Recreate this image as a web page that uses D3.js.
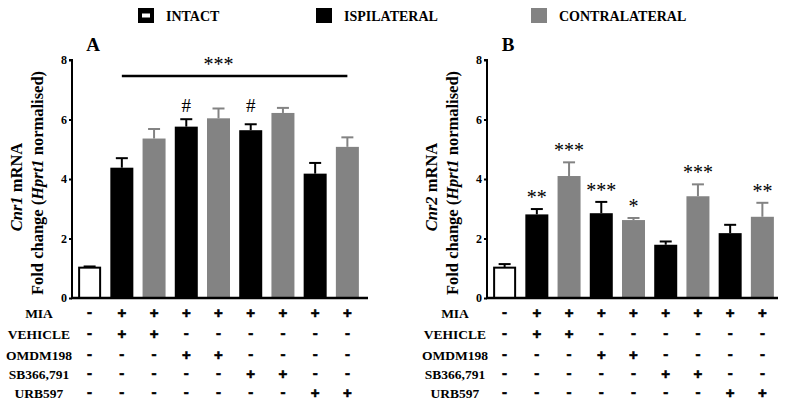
<!DOCTYPE html>
<html><head><meta charset="utf-8">
<script src="https://cdn.jsdelivr.net/npm/d3@7"></script>
<style>body{margin:0;background:#fff}svg{display:block}</style>
</head><body>
<svg id="c" width="786" height="410"></svg>
<script>
const groups = ["INTACT","MIA+VEH ipsi","MIA+VEH contra","OMDM198 ipsi","OMDM198 contra","SB366,791 ipsi","SB366,791 contra","URB597 ipsi","URB597 contra"];
const sides = ["intact","ipsi","contra","ipsi","contra","ipsi","contra","ipsi","contra"];
const cnr1Mean = [1.02, 4.38, 5.36, 5.76, 6.04, 5.64, 6.22, 4.18, 5.08];
const cnr1Sem  = [0.04, 0.32, 0.32, 0.25, 0.33, 0.20, 0.17, 0.36, 0.32];
const cnr2Mean = [1.02, 2.81, 4.10, 2.85, 2.62, 1.79, 3.42, 2.18, 2.73];
const cnr2Sem  = [0.12, 0.18, 0.46, 0.38, 0.07, 0.11, 0.40, 0.28, 0.47];
const cnr1Hash = ["", "", "", "#", "", "#", "", "", ""];
const cnr2Stars = ["", "**", "***", "***", "*", "", "***", "", "**"];
const yTicks = [0, 2, 4, 6, 8];
const rowLabels = ["MIA","VEHICLE","OMDM198","SB366,791","URB597"];
const treatment = [
  ["-","+","+","+","+","+","+","+","+"],
  ["-","+","+","-","-","-","-","-","-"],
  ["-","-","-","+","+","-","-","-","-"],
  ["-","-","-","-","-","+","+","-","-"],
  ["-","-","-","-","-","-","-","+","+"]
];
const legendLabels = ["INTACT","ISPILATERAL","CONTRALATERAL"];
const legendKeys = ["intact","ipsi","contra"];

const SERIF = '"Liberation Serif","Times New Roman",serif';
const GRAY = "#838383";
const fillOf = s => s === "intact" ? "#fff" : s === "ipsi" ? "#000" : GRAY;
const strokeOf = s => s === "contra" ? GRAY : "#000";

const svg = d3.select("#c");
const T = (sel) => sel.style("font-family", SERIF).style("font-weight", "bold");

// legend
const legX = [138, 316, 531];
legendKeys.forEach((k, i) => {
  const g = svg.append("g").attr("transform", `translate(${legX[i]},8)`);
  g.append("rect").attr("width", 16).attr("height", 15).attr("fill", k === "contra" ? GRAY : "#000");
  if (k === "intact") g.append("rect").attr("x", 4).attr("y", 5.5).attr("width", 8).attr("height", 4).attr("fill", "#fff");
  T(g.append("text").attr("x", 28).attr("y", 13).style("font-size", "14px")).text(legendLabels[i]);
});

const y = d3.scaleLinear().domain([0, 8]).range([298, 60]);

function panel(opt) {
  const x = d3.scaleBand().domain(d3.range(groups.length)).range([opt.ax, opt.ax + 293]).paddingInner(0.286).paddingOuter(0.19);
  const g = svg.append("g");
  const bw = x.bandwidth();
  g.selectAll("rect.bar").data(opt.mean).join("rect")
    .attr("x", (d, i) => x(i) + (sides[i] === "intact" ? 1 : 0))
    .attr("width", (d, i) => bw - (sides[i] === "intact" ? 2 : 0))
    .attr("y", d => y(d))
    .attr("height", d => y(0) - y(d))
    .attr("fill", (d, i) => fillOf(sides[i]))
    .attr("stroke", (d, i) => sides[i] === "intact" ? "#000" : "none")
    .attr("stroke-width", 2);
  opt.mean.forEach((m, i) => {
    const cx = x(i) + bw / 2, top = y(m + opt.sem[i]);
    g.append("line").attr("x1", cx).attr("x2", cx).attr("y1", y(m)).attr("y2", top).attr("stroke", strokeOf(sides[i])).attr("stroke-width", 2);
    g.append("line").attr("x1", cx - 6).attr("x2", cx + 6).attr("y1", top).attr("y2", top).attr("stroke", strokeOf(sides[i])).attr("stroke-width", 2);
  });
  const ya = g.append("g").attr("transform", `translate(${opt.ax},0)`)
    .call(d3.axisLeft(y).tickValues(yTicks).tickSize(3).tickPadding(2));
  ya.select(".domain").attr("stroke-width", 2).attr("d", `M-3,${y(8)}H0V${y(0)}`);
  ya.selectAll(".tick line").attr("stroke-width", 2);
  T(ya.selectAll(".tick text")).style("font-size", "12px").attr("fill", "#000");
  g.append("line").attr("x1", opt.ax - 1).attr("x2", opt.ax + opt.xEnd).attr("y1", y(0)).attr("y2", y(0)).attr("stroke", "#000").attr("stroke-width", 2.5);
  T(g.append("text").attr("x", opt.ax + 21).attr("y", 51).style("font-size", "19px").attr("text-anchor", "middle")).text(opt.letter);
  const l1 = T(g.append("text").attr("transform", `translate(${opt.ax - 50},187) rotate(-90)`).attr("text-anchor", "middle").style("font-size", "16.5px"));
  l1.append("tspan").style("font-style", "italic").text(opt.gene);
  l1.append("tspan").text(" mRNA");
  const l2 = T(g.append("text").attr("transform", `translate(${opt.ax - 29},183) rotate(-90)`).attr("text-anchor", "middle").style("font-size", "16.5px"));
  l2.append("tspan").text("Fold change (");
  l2.append("tspan").style("font-style", "italic").text("Hprt1");
  l2.append("tspan").text(" normalised)");
  const rowY = [318, 339, 360, 379, 398];
  rowLabels.forEach((lab, r) => {
    T(g.append("text").attr("x", opt.labX).attr("y", rowY[r]).attr("text-anchor", "middle").style("font-size", "13.5px")).text(lab);
    treatment[r].forEach((s, i) => {
      g.append("text").attr("x", x(i) + bw / 2).attr("y", rowY[r] + (s === "-" ? -1 : 0)).attr("text-anchor", "middle")
        .style("font-family", '"Liberation Sans",Arial,sans-serif').style("font-weight", "bold")
        .style("font-size", "15px").attr("stroke", "#000").attr("stroke-width", 0.6).text(s);
    });
  });
  return {g, x, bw};
}

const A = panel({ax: 72, xEnd: 296, mean: cnr1Mean, sem: cnr1Sem, letter: "A", gene: "Cnr1", labX: 39});
A.g.append("line").attr("x1", A.x(1) + A.bw / 2).attr("x2", A.x(8) + A.bw / 2).attr("y1", y(7.46)).attr("y2", y(7.46)).attr("stroke", "#000").attr("stroke-width", 2.5);
A.g.append("text").attr("x", (A.x(4) + A.bw / 2)).attr("y", y(7.62)).attr("text-anchor", "middle").style("font-family", SERIF).style("font-size", "20px").text("***");
cnr1Hash.forEach((h, i) => {
  if (h) A.g.append("text").attr("x", A.x(i) + A.bw / 2).attr("y", y(6.5) + 7).attr("text-anchor", "middle").style("font-family", SERIF).style("font-size", "19px").text(h);
});

const B = panel({ax: 487, xEnd: 291, mean: cnr2Mean, sem: cnr2Sem, letter: "B", gene: "Cnr2", labX: 455});
cnr2Stars.forEach((s, i) => {
  if (s) B.g.append("text").attr("x", B.x(i) + B.bw / 2).attr("y", y(cnr2Mean[i] + cnr2Sem[i]) - 5).attr("text-anchor", "middle").style("font-family", SERIF).style("font-size", "20px").text(s);
});
</script>
</body></html>
